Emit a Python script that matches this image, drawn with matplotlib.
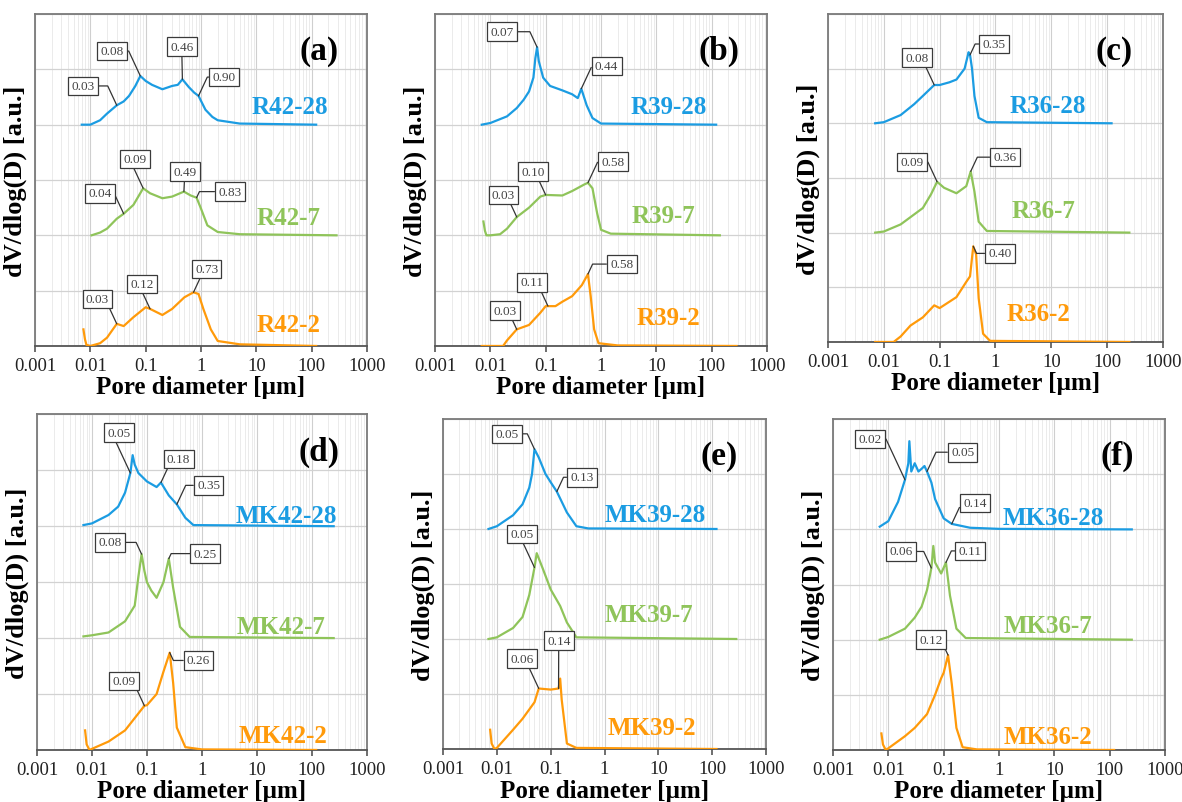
import numpy as np
import matplotlib
matplotlib.use("Agg")
import matplotlib.pyplot as plt
from matplotlib.ticker import LogLocator, FixedLocator, FixedFormatter, NullFormatter

plt.rcParams['font.family'] = ['Liberation Serif', 'DejaVu Serif']

BLUE = '#1b9ce2'
GREEN = '#8fc45a'
ORANGE = '#ff9a0a'

# ---- data: pore diameter [um] and dV/dlog(D) [a.u.] (curves offset later) ----
# (a) R42
r42_28_d = [0.007, 0.01, 0.015, 0.02, 0.03, 0.04, 0.05, 0.065, 0.08, 0.1, 0.13, 0.2, 0.3, 0.38, 0.46, 0.6, 0.75, 0.9, 1.2, 1.6, 2, 5, 120]
r42_28_v = [0, 0, 0.08, 0.2, 0.35, 0.42, 0.52, 0.7, 0.88, 0.79, 0.72, 0.64, 0.7, 0.72, 0.82, 0.68, 0.58, 0.52, 0.27, 0.14, 0.08, 0.02, 0]
r42_7_d = [0.0105, 0.015, 0.02, 0.03, 0.04, 0.06, 0.09, 0.12, 0.2, 0.3, 0.49, 0.65, 0.83, 1.0, 1.3, 2, 5, 280]
r42_7_v = [0, 0.05, 0.12, 0.3, 0.39, 0.55, 0.85, 0.76, 0.67, 0.7, 0.79, 0.72, 0.68, 0.48, 0.18, 0.06, 0.02, 0]
r42_2_d = [0.0075, 0.008, 0.0085, 0.01, 0.015, 0.02, 0.03, 0.04, 0.06, 0.1, 0.12, 0.2, 0.3, 0.5, 0.73, 0.9, 1.1, 1.5, 2, 5, 120]
r42_2_v = [0.3, 0.12, 0.02, 0, 0.05, 0.15, 0.4, 0.36, 0.52, 0.7, 0.67, 0.56, 0.67, 0.88, 0.97, 0.94, 0.67, 0.3, 0.09, 0.03, 0]

# (b) R39
r39_28_d = [0.007, 0.01, 0.02, 0.03, 0.04, 0.05, 0.06, 0.065, 0.07, 0.075, 0.09, 0.12, 0.2, 0.3, 0.38, 0.44, 0.55, 0.7, 1.0, 120]
r39_28_v = [0, 0.03, 0.15, 0.3, 0.45, 0.6, 0.85, 1.2, 1.4, 1.15, 0.85, 0.7, 0.62, 0.55, 0.48, 0.65, 0.35, 0.12, 0.02, 0]
r39_7_d = [0.0075, 0.008, 0.0085, 0.01, 0.015, 0.02, 0.03, 0.05, 0.08, 0.1, 0.2, 0.3, 0.5, 0.58, 0.7, 0.85, 1.0, 1.5, 140]
r39_7_v = [0.25, 0.08, 0, 0, 0.02, 0.12, 0.33, 0.5, 0.7, 0.73, 0.72, 0.8, 0.92, 0.95, 0.85, 0.4, 0.1, 0.03, 0]
r39_2_d = [0.007, 0.017, 0.02, 0.03, 0.05, 0.08, 0.1, 0.15, 0.2, 0.3, 0.45, 0.58, 0.65, 0.75, 0.9, 2, 280]
r39_2_v = [0, 0, 0.1, 0.3, 0.38, 0.6, 0.72, 0.72, 0.8, 0.9, 1.1, 1.3, 0.9, 0.3, 0.05, 0.01, 0]

# (c) R36
r36_28_d = [0.007, 0.01, 0.02, 0.035, 0.05, 0.08, 0.1, 0.15, 0.2, 0.28, 0.33, 0.35, 0.38, 0.42, 0.5, 0.7, 120]
r36_28_v = [0, 0.02, 0.15, 0.35, 0.5, 0.7, 0.7, 0.75, 0.8, 1.0, 1.3, 1.25, 1.0, 0.5, 0.1, 0.02, 0]
r36_7_d = [0.007, 0.01, 0.02, 0.05, 0.07, 0.09, 0.12, 0.2, 0.3, 0.36, 0.42, 0.5, 0.7, 250]
r36_7_v = [0, 0.02, 0.15, 0.45, 0.7, 0.93, 0.82, 0.72, 0.85, 1.12, 0.75, 0.2, 0.03, 0]
r36_2_d = [0.007, 0.015, 0.02, 0.03, 0.05, 0.08, 0.1, 0.2, 0.3, 0.35, 0.4, 0.45, 0.5, 0.6, 0.8, 250]
r36_2_v = [0, 0, 0.1, 0.3, 0.45, 0.67, 0.62, 0.82, 1.1, 1.2, 1.75, 1.6, 0.8, 0.15, 0.02, 0]

# (d) MK42
mk42_28_d = [0.007, 0.01, 0.02, 0.03, 0.04, 0.05, 0.055, 0.06, 0.07, 0.1, 0.15, 0.18, 0.25, 0.35, 0.5, 0.7, 250]
mk42_28_v = [0.02, 0.05, 0.2, 0.35, 0.6, 0.95, 1.27, 1.1, 0.95, 0.8, 0.7, 0.78, 0.55, 0.39, 0.15, 0.02, 0]
mk42_7_d = [0.007, 0.01, 0.02, 0.04, 0.06, 0.07, 0.08, 0.09, 0.1, 0.12, 0.15, 0.2, 0.25, 0.3, 0.4, 0.6, 250]
mk42_7_v = [0.03, 0.05, 0.1, 0.3, 0.58, 1.1, 1.5, 1.2, 1.0, 0.85, 0.72, 1.0, 1.42, 0.9, 0.2, 0.02, 0]
mk42_2_d = [0.0075, 0.008, 0.009, 0.01, 0.02, 0.04, 0.09, 0.1, 0.15, 0.2, 0.26, 0.3, 0.35, 0.5, 1, 120]
mk42_2_v = [0.35, 0.1, 0, 0.02, 0.15, 0.35, 0.79, 0.8, 1.0, 1.4, 1.74, 1.2, 0.4, 0.05, 0.01, 0]

# (e) MK39
mk39_28_d = [0.007, 0.01, 0.02, 0.03, 0.04, 0.045, 0.05, 0.06, 0.08, 0.1, 0.13, 0.2, 0.3, 0.5, 120]
mk39_28_v = [0, 0.05, 0.25, 0.45, 0.75, 1.0, 1.45, 1.3, 1.0, 0.85, 0.68, 0.3, 0.05, 0.01, 0]
mk39_7_d = [0.007, 0.01, 0.02, 0.03, 0.04, 0.05, 0.055, 0.07, 0.1, 0.15, 0.2, 0.3, 280]
mk39_7_v = [0, 0.03, 0.2, 0.4, 0.8, 1.3, 1.56, 1.3, 0.9, 0.6, 0.3, 0.03, 0]
mk39_2_d = [0.0075, 0.008, 0.009, 0.01, 0.02, 0.03, 0.05, 0.06, 0.1, 0.14, 0.15, 0.16, 0.2, 0.3, 120]
mk39_2_v = [0.35, 0.1, 0, 0.02, 0.35, 0.55, 0.85, 1.1, 1.08, 1.1, 1.28, 0.9, 0.1, 0.02, 0]

# (f) MK36
mk36_28_d = [0.007, 0.01, 0.015, 0.02, 0.023, 0.024, 0.026, 0.03, 0.035, 0.04, 0.045, 0.05, 0.06, 0.07, 0.1, 0.14, 0.3, 1, 250]
mk36_28_v = [0.05, 0.15, 0.5, 0.9, 1.2, 1.6, 1.05, 1.2, 1.05, 1.1, 1.15, 1.05, 0.85, 0.55, 0.2, 0.1, 0.03, 0.01, 0]
mk36_7_d = [0.007, 0.01, 0.02, 0.03, 0.04, 0.05, 0.06, 0.065, 0.07, 0.09, 0.11, 0.13, 0.17, 0.25, 250]
mk36_7_v = [0, 0.05, 0.2, 0.4, 0.6, 0.9, 1.3, 1.7, 1.4, 1.2, 1.4, 0.8, 0.2, 0.03, 0]
mk36_2_d = [0.0075, 0.008, 0.009, 0.01, 0.02, 0.03, 0.05, 0.07, 0.09, 0.1, 0.12, 0.14, 0.17, 0.22, 0.4, 120]
mk36_2_v = [0.3, 0.1, 0, 0.03, 0.25, 0.4, 0.65, 1.0, 1.3, 1.4, 1.72, 1.2, 0.4, 0.05, 0.01, 0]

# labelled peak diameters per curve (28 d, 7 d, 2 d)
peaks = {
    'a': [[0.03, 0.08, 0.46, 0.90], [0.04, 0.09, 0.49, 0.83], [0.03, 0.12, 0.73]],
    'b': [[0.07, 0.44], [0.03, 0.10, 0.58], [0.03, 0.11, 0.58]],
    'c': [[0.08, 0.35], [0.09, 0.36], [0.40]],
    'd': [[0.05, 0.18, 0.35], [0.08, 0.25], [0.09, 0.26]],
    'e': [[0.05, 0.13], [0.05], [0.06, 0.14]],
    'f': [[0.02, 0.05, 0.14], [0.06, 0.11], [0.12]],
}
names = {
    'a': ['R42-28', 'R42-7', 'R42-2'],
    'b': ['R39-28', 'R39-7', 'R39-2'],
    'c': ['R36-28', 'R36-7', 'R36-2'],
    'd': ['MK42-28', 'MK42-7', 'MK42-2'],
    'e': ['MK39-28', 'MK39-7', 'MK39-2'],
    'f': ['MK36-28', 'MK36-7', 'MK36-2'],
}
curves = {
    'a': [(r42_28_d, r42_28_v), (r42_7_d, r42_7_v), (r42_2_d, r42_2_v)],
    'b': [(r39_28_d, r39_28_v), (r39_7_d, r39_7_v), (r39_2_d, r39_2_v)],
    'c': [(r36_28_d, r36_28_v), (r36_7_d, r36_7_v), (r36_2_d, r36_2_v)],
    'd': [(mk42_28_d, mk42_28_v), (mk42_7_d, mk42_7_v), (mk42_2_d, mk42_2_v)],
    'e': [(mk39_28_d, mk39_28_v), (mk39_7_d, mk39_7_v), (mk39_2_d, mk39_2_v)],
    'f': [(mk36_28_d, mk36_28_v), (mk36_7_d, mk36_7_v), (mk36_2_d, mk36_2_v)],
}

# ---- layout ----
offsets = [4, 2, 0]
colors = [BLUE, GREEN, ORANGE]
axes_rect = {
    'a': [0.0296, 0.5679, 0.281, 0.4134],
    'b': [0.368, 0.5679, 0.281, 0.4134],
    'c': [0.7005, 0.5729, 0.2834, 0.4085],
    'd': [0.0313, 0.0648, 0.279, 0.418],
    'e': [0.3748, 0.066, 0.2733, 0.411],
    'f': [0.7047, 0.0648, 0.281, 0.412],
}
# annotation box centres (x in um, y in grid units), same order as peaks
boxes = {
    'a': [[(0.0073, 4.70), (0.0243, 5.33), (0.447, 5.41), (2.6, 4.86)],
          [(0.015, 2.76), (0.064, 3.38), (0.51, 3.15), (3.3, 2.79)],
          [(0.0134, 0.85), (0.085, 1.12), (1.26, 1.39)]],
    'b': [[(0.016, 5.68), (1.26, 5.06)],
          [(0.0172, 2.73), (0.06, 3.15), (1.63, 3.33)],
          [(0.0184, 0.64), (0.056, 1.15), (2.36, 1.48)]],
    'c': [[(0.039, 5.2), (0.94, 5.45)],
          [(0.032, 3.29), (1.48, 3.38)],
          [(1.2, 1.62)]],
    'd': [[(0.031, 5.67), (0.377, 5.2), (1.32, 4.73)],
          [(0.0215, 3.71), (1.15, 3.51)],
          [(0.038, 1.23), (0.87, 1.6)]],
    'e': [[(0.0155, 5.73), (0.38, 4.94)],
          [(0.0294, 3.91)],
          [(0.0294, 1.64), (0.141, 1.97)]],
    'f': [[(0.0046, 5.64), (0.22, 5.4), (0.366, 4.48)],
          [(0.0172, 3.6), (0.3, 3.61)],
          [(0.06, 2.0)]],
}
name_pos = {
    'a': [(40, 4.33), (38, 2.33), (38, 0.39)],
    'b': [(16.6, 4.33), (13.4, 2.36), (16.6, 0.52)],
    'c': [(8.8, 4.33), (7.2, 2.4), (5.8, 0.52)],
    'd': [(35, 4.2), (28, 2.21), (30, 0.25)],
    'e': [(8.8, 4.27), (6.6, 2.45), (7.6, 0.39)],
    'f': [(9.6, 4.22), (7.8, 2.25), (7.8, 0.25)],
}

fig = plt.figure(figsize=(11.82, 8.03), dpi=100)

for tag in ['a', 'b', 'c', 'd', 'e', 'f']:
    ax = fig.add_axes(axes_rect[tag])
    ax.set_xscale('log')
    ax.set_xlim(0.001, 1000)
    ax.set_ylim(0, 6)

    ax.xaxis.set_major_locator(FixedLocator([1e-3, 1e-2, 1e-1, 1, 10, 100, 1000]))
    ax.xaxis.set_major_formatter(FixedFormatter(['0.001', '0.01', '0.1', '1', '10', '100', '1000']))
    ax.xaxis.set_minor_locator(LogLocator(base=10, subs=np.arange(2, 10)))
    ax.xaxis.set_minor_formatter(NullFormatter())
    ax.set_yticks(range(7))
    ax.set_yticklabels([])
    ax.tick_params(axis='x', which='major', direction='out', length=4, width=1.2,
                   color='#555555', labelsize=13.5, labelcolor='#222222', pad=4)
    ax.tick_params(axis='x', which='minor', length=0)
    ax.tick_params(axis='y', length=0)
    ax.grid(which='major', axis='x', color='#cfcfcf', lw=0.8)
    ax.grid(which='minor', axis='x', color='#e8e8e8', lw=0.6)
    ax.grid(which='major', axis='y', color='#d2d2d2', lw=0.9)
    ax.set_axisbelow(True)
    for s in ax.spines.values():
        s.set_color('#7a7a7a')
        s.set_linewidth(1.3)
    ax.spines['bottom'].set_color('#555555')

    for i, (d, v) in enumerate(curves[tag]):
        y = np.array(v) + offsets[i]
        ax.plot(d, y, color=colors[i], lw=1.6, zorder=3)
        ax.text(name_pos[tag][i][0], name_pos[tag][i][1], names[tag][i], color=colors[i],
                fontsize=18, fontweight='bold', ha='center', va='center', zorder=5)
        for p, (bx, by) in zip(peaks[tag][i], boxes[tag][i]):
            py = np.interp(np.log10(p), np.log10(d), v) + offsets[i]
            dx = np.log10(bx) - np.log10(p)
            if abs(dx) < 0.12:
                conn = 'arc3,rad=0'
            else:
                angB = 65 if (dx > 0) == (by > py) else 115
                conn = 'angle,angleA=0,angleB=%d,rad=0' % angB
            ax.annotate('%.2f' % p, xy=(p, py), xytext=(bx, by),
                        fontsize=9.5, color='#444444', ha='center', va='center', zorder=6,
                        bbox=dict(boxstyle='square,pad=0.25', fc='white', ec='#3a3a3a', lw=0.9),
                        arrowprops=dict(arrowstyle='-', color='#333333', lw=0.9,
                                        shrinkA=0, shrinkB=0, connectionstyle=conn))

    ax.text(0.855, 0.89, '(%s)' % tag, transform=ax.transAxes, fontsize=24,
            fontweight='bold', ha='center', va='center', zorder=5)
    ax.set_xlabel('Pore diameter [µm]', fontsize=18, fontweight='bold', labelpad=1)
    ax.set_ylabel('dV/dlog(D) [a.u.]', fontsize=19, fontweight='bold', labelpad=2)

fig.savefig('out.png', dpi=100, facecolor='white')
